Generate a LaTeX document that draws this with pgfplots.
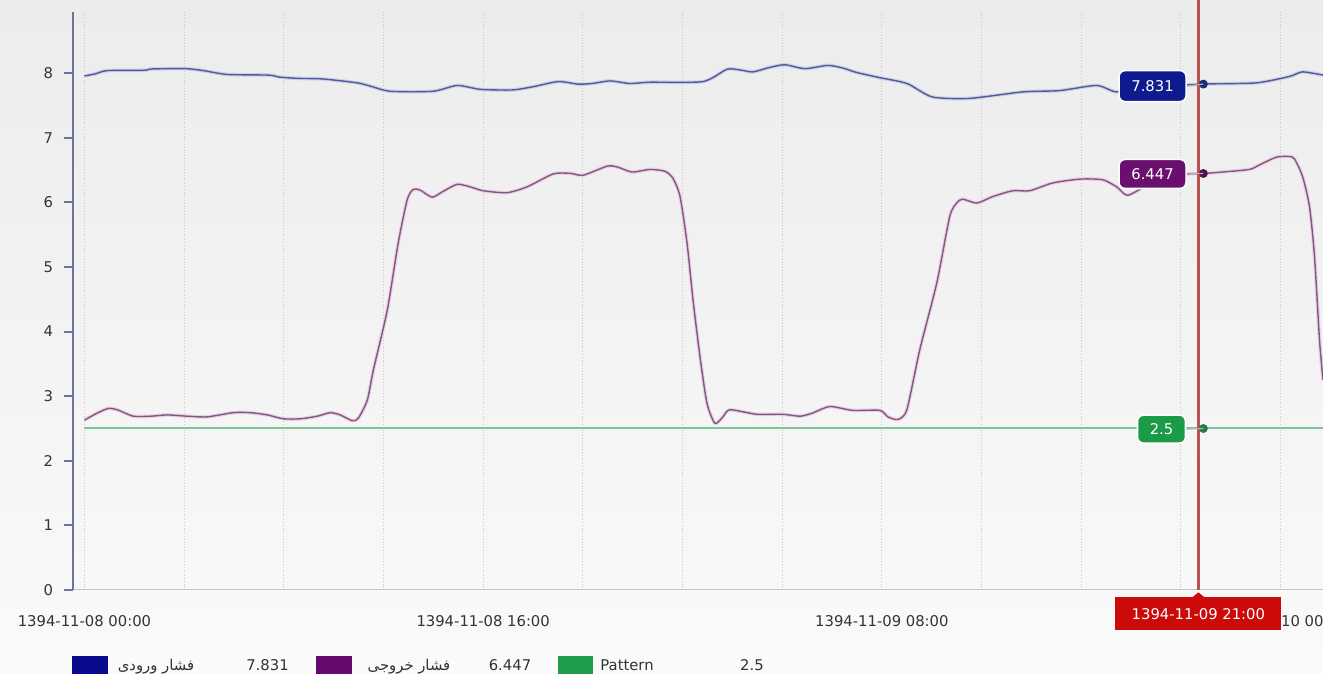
\documentclass[border=0pt]{standalone}
\usepackage{fontspec}
\setmainfont{DejaVu Sans}
\newfontfamily\arabicfont[Script=Arabic]{DejaVu Sans}
\TeXXeTstate=1
\usepackage{pgfplots}
\pgfplotsset{compat=1.18}
\usepackage{pgfplotstable}

\definecolor{bgtop}{HTML}{ECECEC}
\definecolor{bgbot}{HTML}{FAFAFA}
\definecolor{yaxcol}{HTML}{6E729E}
\definecolor{xaxcol}{HTML}{C4C4C4}
\definecolor{gridcol}{HTML}{CCC6C6}
\definecolor{bluecore}{HTML}{555B94}
\definecolor{bluehalo}{HTML}{CDCFEC}
\definecolor{purpcore}{HTML}{805A7D}
\definecolor{purphalo}{HTML}{EBCFE8}
\definecolor{greenline}{HTML}{7CC49A}
\definecolor{bluebox}{HTML}{0E1A8E}
\definecolor{purpbox}{HTML}{6A0F6E}
\definecolor{greenbox}{HTML}{1B9A48}
\definecolor{bluedot}{HTML}{1C2A78}
\definecolor{purpdot}{HTML}{4E0F4C}
\definecolor{greendot}{HTML}{2A7A48}
\definecolor{cursorcol}{HTML}{B8524E}
\definecolor{redbox}{HTML}{CC0A0A}
\definecolor{legblue}{HTML}{0A0A8C}
\definecolor{legpurp}{HTML}{650A6A}
\definecolor{leggreen}{HTML}{1E9E4A}
\definecolor{txt}{HTML}{333333}

% inlet pressure (hours from 1394-11-08 00:00, value)
\pgfplotstableread{
h v
0 7.957
0.44 7.99
0.92 8.04
2.40 8.045
2.70 8.065
4.05 8.07
4.77 8.04
5.73 7.98
7.40 7.97
7.80 7.94
8.54 7.92
9.58 7.91
10.95 7.85
11.47 7.80
12.27 7.72
13.99 7.72
14.96 7.81
15.88 7.75
17.16 7.74
18.00 7.79
19.01 7.87
19.81 7.83
20.37 7.84
21.09 7.88
21.89 7.84
22.69 7.86
24.82 7.87
25.78 8.06
26.30 8.05
26.82 8.02
27.51 8.09
28.11 8.13
28.91 8.07
29.83 8.12
30.43 8.08
30.99 8.01
31.92 7.93
32.72 7.87
33.12 7.82
34.04 7.63
35.53 7.61
37.65 7.71
39.13 7.73
40.62 7.81
41.42 7.71
42.70 7.78
44.90 7.831
47.03 7.85
48.36 7.95
48.88 8.02
49.70 7.97
}\inlet

% outlet pressure
\pgfplotstableread{
h v
0 2.63
0.52 2.74
0.96 2.81
1.32 2.79
1.96 2.69
2.65 2.69
3.33 2.71
4.13 2.69
4.93 2.68
5.97 2.745
6.66 2.745
7.34 2.71
7.98 2.65
8.66 2.65
9.34 2.69
9.86 2.745
10.26 2.71
10.75 2.62
10.99 2.66
11.35 2.94
11.59 3.40
12.15 4.33
12.59 5.37
12.95 6.04
13.19 6.20
13.47 6.19
13.95 6.08
14.39 6.17
14.96 6.28
15.48 6.24
16.00 6.18
16.96 6.15
17.76 6.24
18.81 6.44
19.49 6.45
20.01 6.42
20.97 6.56
21.37 6.55
21.97 6.47
22.69 6.51
23.30 6.48
23.62 6.37
23.90 6.09
24.18 5.37
24.42 4.49
24.70 3.61
24.98 2.89
25.30 2.58
25.62 2.68
25.90 2.79
26.98 2.72
28.03 2.72
28.71 2.69
29.19 2.735
29.91 2.84
30.83 2.78
31.92 2.78
32.24 2.68
32.64 2.64
33.00 2.79
33.52 3.72
34.20 4.75
34.72 5.78
35.00 5.99
35.24 6.05
35.81 5.99
36.45 6.09
37.25 6.18
37.93 6.18
38.85 6.30
39.94 6.36
40.86 6.35
41.42 6.24
41.86 6.11
42.74 6.28
43.95 6.43
44.90 6.447
45.67 6.47
46.75 6.51
47.15 6.58
47.83 6.70
48.36 6.71
48.56 6.67
48.88 6.40
49.16 5.93
49.36 5.16
49.56 3.87
49.70 3.25
}\outlet

\begin{document}
\begin{tikzpicture}[x=1pt,y=1pt]
\path[use as bounding box, clip] (0,0) rectangle (661.5,337);
\shade[top color=bgtop, bottom color=bgbot] (0,0) rectangle (661.5,337);
\coordinate (T) at (0,337);
\begin{axis}[
  at={(36.5pt,42pt)}, anchor=south west,
  scale only axis, width=625pt, height=289pt,
  xmin=-0.46, xmax=49.7, ymin=0, ymax=8.947,
  axis x line*=bottom, axis y line*=left,
  x axis line style={-, draw=xaxcol, line width=0.5pt},
  y axis line style={-, draw=yaxcol, line width=1pt},
  xtick={0,16,32,48},
  xticklabels={1394-11-08 00:00, 1394-11-08 16:00, 1394-11-09 08:00, 1394-11-10 00:00},
  minor xtick={4,8,12,20,24,28,36,40,44},
  xmajorgrids=true, xminorgrids=true,
  major grid style={densely dotted, draw=gridcol, line width=0.5pt},
  minor grid style={densely dotted, draw=gridcol, line width=0.5pt},
  xtick style={draw=none},
  minor tick style={draw=none},
  ytick={0,1,2,3,4,5,6,7,8},
  ytick align=outside, major tick length=4.5pt,
  ytick style={draw=yaxcol, line width=1pt},
  tick label style={font=\fontsize{7.4}{9}\selectfont, text=txt},
  /pgf/number format/assume math mode=true,
  xticklabel style={yshift=-9pt},
  yticklabel style={xshift=-2pt},
]
\addplot[greenline, line width=1pt] coordinates {(0,2.5) (49.7,2.5)};
\addplot[purpcore, line width=0.7pt, smooth, tension=0.4, preaction={draw=purphalo, line width=1.8pt}] table[x=h, y=v] {\outlet};
\addplot[bluecore, line width=0.7pt, smooth, tension=0.4, preaction={draw=bluehalo, line width=1.8pt}] table[x=h, y=v] {\inlet};
\addplot[cursorcol, line width=1.2pt] coordinates {(44.7,0) (44.7,8.947)};
\addplot[only marks, mark=*, mark size=2pt, bluedot] coordinates {(44.9,7.831)};
\addplot[only marks, mark=*, mark size=2pt, purpdot] coordinates {(44.9,6.447)};
\addplot[only marks, mark=*, mark size=2pt, greendot] coordinates {(44.9,2.5)};
\coordinate (cur) at (axis cs:44.7,0);
\coordinate (curtop) at (axis cs:44.7,8.947);
\coordinate (bl) at (axis cs:42.86,7.80);
\coordinate (pu) at (axis cs:42.86,6.44);
\coordinate (gr) at (axis cs:43.22,2.49);
\coordinate (dB) at (axis cs:44.9,7.831);
\coordinate (dP) at (axis cs:44.9,6.447);
\coordinate (dG) at (axis cs:44.9,2.5);
\end{axis}
\draw[cursorcol, line width=1.2pt] (curtop) -- (curtop |- T);
% connectors
\draw[gray!60, line width=0.6pt] (bl) ++(17pt,0) -- (dB);
\draw[gray!60, line width=0.6pt] (pu) ++(17pt,0) -- (dP);
\draw[gray!60, line width=0.6pt] (gr) ++(12pt,0) -- (dG);
% value boxes
\tikzset{vbox/.style={draw=white, line width=0.8pt, rounded corners=3pt, text=white, inner sep=0pt, font=\fontsize{7.4}{9}\selectfont}}
\node[vbox, fill=bluebox, minimum width=33.5pt, minimum height=15.5pt] at (bl) {7.831};
\node[vbox, fill=purpbox, minimum width=33.5pt, minimum height=14.5pt] at (pu) {6.447};
\node[vbox, fill=greenbox, minimum width=24pt, minimum height=14pt] at (gr) {2.5};
% cursor time box
\fill[redbox] ([shift={(-3pt,-3.6pt)}]cur) -- ([shift={(0pt,-1.2pt)}]cur) -- ([shift={(3pt,-3.6pt)}]cur) -- cycle;
\node[fill=redbox, text=white, anchor=north, yshift=-3.5pt, minimum width=83pt, minimum height=16.5pt, inner sep=0pt, font=\fontsize{7.4}{9}\selectfont] at (cur) {1394-11-09 21:00};
% legend
\fill[legblue] (36,-8) rectangle (54,9);
\node[anchor=base, text=txt, font=\fontsize{7.4}{9}\selectfont, inner sep=0pt] at (78,1.5) {\arabicfont\beginR فشار ورودی\endR};
\node[anchor=base, text=txt, font=\fontsize{7.4}{9}\selectfont, inner sep=0pt] at (133.75,1.5) {7.831};
\fill[legpurp] (158,-8) rectangle (176,9);
\node[anchor=base, text=txt, font=\fontsize{7.4}{9}\selectfont, inner sep=0pt] at (204.5,1.5) {\arabicfont\beginR فشار خروجی\endR};
\node[anchor=base, text=txt, font=\fontsize{7.4}{9}\selectfont, inner sep=0pt] at (255,1.5) {6.447};
\fill[leggreen] (279,-8) rectangle (296.5,9);
\node[anchor=base west, text=txt, font=\fontsize{7.4}{9}\selectfont, inner sep=0pt] at (300,1.5) {Pattern};
\node[anchor=base, text=txt, font=\fontsize{7.4}{9}\selectfont, inner sep=0pt] at (376,1.5) {2.5};
\end{tikzpicture}
\end{document}
